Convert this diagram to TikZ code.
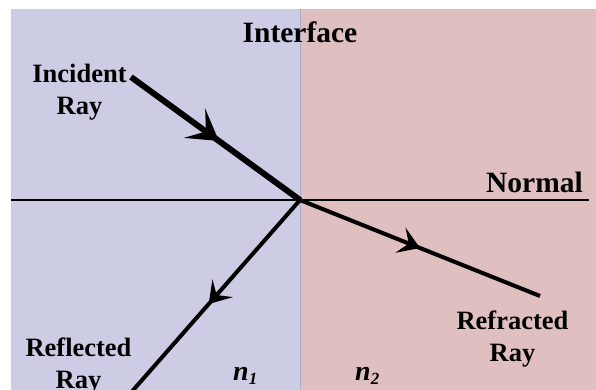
\documentclass[tikz,border=0pt]{standalone}
\usepackage{fontspec}
\setmainfont{Liberation Serif}
\usetikzlibrary{arrows.meta,positioning,decorations.markings}
\definecolor{mediumone}{HTML}{CCCCE4}
\definecolor{mediumtwo}{HTML}{DFBFC0}
\definecolor{ifaceline}{HTML}{A9A9CF}
\definecolor{ink}{HTML}{000000}
\tikzset{
  lbl/.style={font=\fontsize{26.5}{32}\selectfont\bfseries,align=center,inner sep=0pt,text=ink},
  biglbl/.style={lbl,font=\fontsize{29.5}{32}\selectfont\bfseries},
  idx/.style={font=\fontsize{28}{30}\selectfont\bfseries\itshape,inner sep=0pt,text=ink},
  ray/.style={draw=ink,line width=4pt,line cap=butt,postaction={decorate}},
  midarrow/.style={decoration={markings,mark=at position #1 with
      {\arrow{Stealth[length=21pt,width=27pt,inset=9pt]}}}},
  bigarrow/.style={decoration={markings,mark=at position #1 with
      {\arrow{Stealth[length=30pt,width=36pt,inset=14pt]}}}}
}
\newcommand{\subidx}[1]{\raisebox{-0.35ex}{\fontsize{17}{19}\selectfont #1}}

\begin{document}
\begin{tikzpicture}[x=1pt,y=-1pt]
    \useasboundingbox (0,0) rectangle (596,390);
    % the two media
    \fill[mediumone] (11,9) rectangle (300,390);
    \fill[mediumtwo] (300,9) rectangle (596,390);
    \draw[ifaceline,line width=1pt] (300,9) -- (300,390);
    % normal and point of incidence
    \coordinate (nl) at (11,200);
    \coordinate (nr) at (589,200);
    \draw[ink,line width=1.6pt] (nl) -- (nr);
    \coordinate (hit) at (300,200);
    \coordinate (src) at (131,77);
    \coordinate (refr) at (540,296);
    \coordinate (refl) at (121,404);
    % rays
    \begin{scope}
      \clip (0,0) rectangle (596,390);
      \path[ray,line width=6pt,bigarrow=0.52] (src) -- (hit);
      \path[ray,midarrow=0.5] (hit) -- (refr);
      \path[ray,midarrow=0.51] (hit) -- (refl);
    \end{scope}
    % labels
    \node[biglbl,anchor=base] (iface) at (300,43) {Interface};
    \node[lbl,anchor=north] (inc) at (79.5,64) {Incident\\Ray};
    \node[biglbl,anchor=base east] (norm) at (583,192) {Normal};
    \node[lbl,anchor=north] (rfr) at (512.5,311) {Refracted\\Ray};
    \node[lbl,anchor=north] (rfl) at (78.5,338) {Reflected\\Ray};
    \node[idx,anchor=base west] (n1) at (233,380) {n\subidx{1}};
    \node[idx,anchor=base west] (n2) at (355,380) {n\subidx{2}};
  \end{tikzpicture}
\end{document}
